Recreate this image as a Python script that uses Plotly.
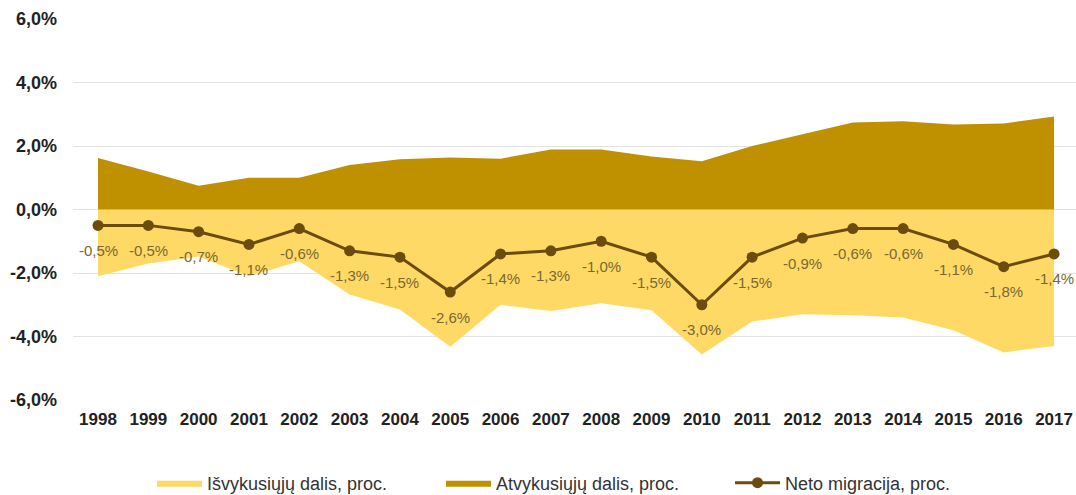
import plotly.graph_objects as go

years = list(range(1998, 2018))

# emigrants share, % (negative side)
isvykusiuju = [-2.1, -1.7, -1.48, -2.1, -1.63, -2.68, -3.15, -4.32, -3.0, -3.2,
               -2.95, -3.17, -4.57, -3.53, -3.3, -3.33, -3.4, -3.8, -4.5, -4.3]
# immigrants share, %
atvykusiuju = [1.62, 1.2, 0.75, 1.0, 1.0, 1.4, 1.58, 1.64, 1.6, 1.89,
               1.89, 1.67, 1.52, 2.0, 2.37, 2.74, 2.78, 2.68, 2.71, 2.93]
# net migration, %
neto = [-0.5, -0.5, -0.7, -1.1, -0.6, -1.3, -1.5, -2.6, -1.4, -1.3,
        -1.0, -1.5, -3.0, -1.5, -0.9, -0.6, -0.6, -1.1, -1.8, -1.4]

y_ticks = [-6, -4, -2, 0, 2, 4, 6]
y_ticktext = ["-6,0%", "-4,0%", "-2,0%", "0,0%", "2,0%", "4,0%", "6,0%"]

neto_labels = [f"{v:.1f}".replace(".", ",") + "%" for v in neto]

FONT = "Liberation Sans, Arial, sans-serif"

fig = go.Figure()

fig.add_trace(go.Scatter(
    x=years, y=isvykusiuju,
    name="Išvykusiųjų dalis, proc.",
    mode="lines", line=dict(width=0, color="#FFD966"),
    fill="tozeroy", fillcolor="#FFD966",
))

fig.add_trace(go.Scatter(
    x=years, y=atvykusiuju,
    name="Atvykusiųjų dalis, proc.",
    mode="lines", line=dict(width=0, color="#BF9000"),
    fill="tozeroy", fillcolor="#BF9000",
))

fig.add_trace(go.Scatter(
    x=years, y=neto,
    name="Neto migracija, proc.",
    mode="lines+markers",
    line=dict(color="#6B4C0C", width=3),
    marker=dict(color="#6B4C0C", size=11),
))

# data labels below the net migration points
for x, y, t in zip(years, neto, neto_labels):
    fig.add_annotation(
        x=x, y=y, text=t, showarrow=False,
        yshift=-25,
        font=dict(family=FONT, size=15, color="#7A6830"),
    )

fig.update_layout(
    width=1076, height=495,
    margin=dict(l=73, r=0, t=19, b=95),
    paper_bgcolor="white",
    plot_bgcolor="white",
    font=dict(family=FONT),
    xaxis=dict(
        range=[1997.503, 2017.436],
        tickvals=years,
        ticktext=[str(y) for y in years],
        showgrid=False, zeroline=False,
        tickfont=dict(family=FONT, size=17, color="#222222", weight="bold"),
        ticks="",
        ticklabelstandoff=7,
        automargin=False,
    ),
    yaxis=dict(
        range=[-6, 6],
        tickvals=y_ticks,
        ticktext=y_ticktext,
        showgrid=True, gridcolor="#E3E3E3", gridwidth=1,
        zeroline=False,
        tickfont=dict(family=FONT, size=18, color="#222222", weight="bold"),
        ticklabelstandoff=15,
        automargin=False,
    ),
    legend=dict(
        orientation="h",
        x=0.0788, xanchor="left",
        yref="container", y=0.0242, yanchor="middle",
        font=dict(family=FONT, size=18, color="#333333"),
        entrywidth=229,
        itemwidth=45,
        tracegroupgap=0,
    ),
    showlegend=True,
)

# drop the default 8px page margin so the figure fills the window exactly
fig.write_html(
    "out.html",
    config={"displayModeBar": False},
    post_script="document.body.style.margin='0';",
)
